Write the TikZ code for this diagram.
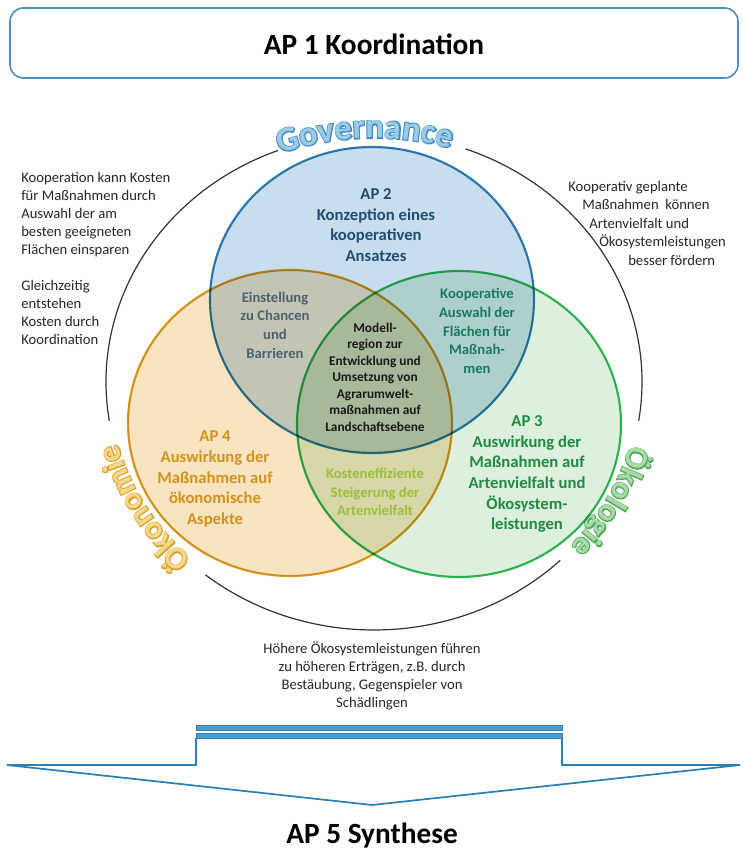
\documentclass[tikz,border=0pt]{standalone}
\usepackage{fontspec}
\setmainfont{Carlito}
\newfontfamily\ringout[FakeBold=6]{Carlito}
\newfontfamily\ringin{Carlito}
\usepackage{tikz}
\usetikzlibrary{positioning}
\usetikzlibrary{decorations.text}
\definecolor{apblue}{HTML}{2E7FB2}
\definecolor{apbluefill}{HTML}{C8DDEE}
\definecolor{aporange}{HTML}{D99A1E}
\definecolor{aporangefill}{HTML}{F8E4C0}
\definecolor{apgreen}{HTML}{2FB855}
\definecolor{apgreenfill}{HTML}{DDF0DD}
\definecolor{txtblue}{HTML}{1F4E6E}
\definecolor{txtslate}{HTML}{4F6070}
\definecolor{txtteal}{HTML}{1B7A5E}
\definecolor{txtlime}{HTML}{9CBF3C}
\definecolor{txtorange}{HTML}{D4921A}
\definecolor{txtgreen}{HTML}{1F8A43}
\definecolor{ringgray}{HTML}{333333}
\definecolor{boxblue}{HTML}{4B8FBF}
\definecolor{barblue}{HTML}{4A9FD0}
\definecolor{govfill}{HTML}{9CCBE8}
\definecolor{govline}{HTML}{3F8DC4}
\definecolor{oekofill}{HTML}{F5D888}
\definecolor{oekoline}{HTML}{D9A02C}
\definecolor{ecofill}{HTML}{A9DBA8}
\definecolor{ecoline}{HTML}{52A85A}
% word along the ring: start, end, fill, outline, size, text
\newcommand{\ringword}[6]{%
  \path[decorate,decoration={text along path,text align=center,
      text color=#4,text={|\ringout\bfseries\fontsize{#5}{#5}\selectfont|#6}}]
      (nring) ++(#1:265 and 244) arc[start angle=#1,end angle=#2,x radius=265,y radius=244];
  \path[decorate,decoration={text along path,text align=center,
      text color=#3,text={|\ringin\bfseries\fontsize{#5}{#5}\selectfont|#6}}]
      (nring) ++(#1:265 and 244) arc[start angle=#1,end angle=#2,x radius=265,y radius=244];
}
\tikzset{
  vennline/.style={line width=1.6pt},
  aplabel/.style={font=\bfseries\fontsize{12.5}{15.5}\selectfont,align=center},
  cutlabel/.style={font=\bfseries\fontsize{11}{14}\selectfont,align=center},
  corelabel/.style={font=\bfseries\fontsize{10}{12.4}\selectfont,align=center},
  notetext/.style={font=\fontsize{11}{13.5}\selectfont,inner sep=0pt,text=black!85},
  titletext/.style={font=\bfseries\fontsize{22}{26}\selectfont},
  ringarc/.style={draw=ringgray,line width=0.9pt},
  arrowline/.style={draw=apblue,line width=1.3pt,line join=miter},
  barline/.style={draw=apblue,fill=barblue,line width=0.5pt}
}

\begin{document}
\begin{tikzpicture}[x=0.75pt,y=0.75pt]
    \useasboundingbox (0,0) rectangle (742,852);
    \coordinate (nring)   at (374,470);
    \coordinate (nblue)   at (372,552);
    \coordinate (norange) at (290,429);
    \coordinate (ngreen)  at (459,428);
    % AP 1 box
    \draw[draw=boxblue,line width=1.2pt,rounded corners=10pt] (10,844) rectangle (738,774);
    \node[titletext,anchor=base] (ntitle) at (374,797.5) {AP 1 Koordination};
    % outer ring
    \draw[ringarc] (nring) ++(111:268 and 248) arc[start angle=111,end angle=189,x radius=268,y radius=248];
    \draw[ringarc] (nring) ++(231:268 and 248) arc[start angle=231,end angle=314,x radius=268,y radius=248];
    \draw[ringarc] (nring) ++(-9:268 and 248) arc[start angle=-9,end angle=70,x radius=268,y radius=248];
    \ringword{127}{57}{govfill}{govline}{26}{Governance}
    \ringword{245}{175}{oekofill}{oekoline}{24}{Ökonomie}
    \ringword{7}{-63}{ecofill}{ecoline}{24}{Ökologie}
    % three circles
    \begin{scope}[blend mode=multiply]
        \draw[vennline,draw=apblue,fill=apbluefill]     (nblue)   ellipse [x radius=162,y radius=153];
        \draw[vennline,draw=aporange,fill=aporangefill] (norange) ellipse [x radius=162,y radius=153];
        \draw[vennline,draw=apgreen,fill=apgreenfill]   (ngreen)  ellipse [x radius=162,y radius=153];
    \end{scope}
    % circle labels
    \node[aplabel,text=txtblue]   (nAP2) at (376,627) {AP 2\\Konzeption eines\\kooperativen\\Ansatzes};
    \node[aplabel,text=txtorange] (nAP4) at (215,373) {AP 4\\Auswirkung der\\Maßnahmen auf\\ökonomische\\Aspekte};
    \node[aplabel,text=txtgreen]  (nAP3) at (527,378) {AP 3\\Auswirkung der\\Maßnahmen auf\\Artenvielfalt und\\Ökosystem-\\leistungen};
    % overlaps
    \node[cutlabel,text=txtslate] (nBO) at (275,527) {Einstellung\\zu Chancen\\und\\Barrieren};
    \node[cutlabel,text=txtteal]  (nBG) at (477,521) {Kooperative\\Auswahl der\\Flächen für\\Maßnah-\\men};
    \node[cutlabel,text=txtlime]  (nOG) at (375,360) {Kosteneffiziente\\Steigerung der\\Artenvielfalt};
    \node[corelabel,text=black!90] (ncore) at (375,475) {Modell-\\region zur\\Entwicklung und\\Umsetzung von\\Agrarumwelt-\\maßnahmen auf\\Landschaftsebene};
    % side notes
    \node[notetext,align=left,anchor=west] (nleft) at (21,594) {Kooperation kann Kosten\\für Maßnahmen durch\\Auswahl der am\\besten geeigneten\\Flächen einsparen\\[13.5pt]Gleichzeitig\\entstehen\\Kosten durch\\Koordination};
    \foreach \tx/\ty/\tt [count=\i] in {568/660.5/Kooperativ geplante,582/642/Maßnahmen~ können,
        589/623.5/Artenvielfalt und,599/605/Ökosystemleistungen,628/586.5/besser fördern}
        \node[notetext,anchor=base west] (nright\i) at (\tx,\ty) {\tt};
    \node[notetext,align=center] (nbottom) at (372,176) {Höhere Ökosystemleistungen führen\\zu höheren Erträgen, z.B. durch\\Bestäubung, Gegenspieler von\\Schädlingen};
    % AP 5 arrow
    \draw[barline] (196,122) rectangle (562,127);
    \draw[barline] (196,114) rectangle (562,119);
    \draw[arrowline] (196,114) -- (196,87) -- (7,87) -- (372,47) -- (740,87) -- (562,87) -- (562,114);
    \node[titletext,anchor=base] (nsynth) at (372,8) {AP 5 Synthese};
\end{tikzpicture}
\end{document}
